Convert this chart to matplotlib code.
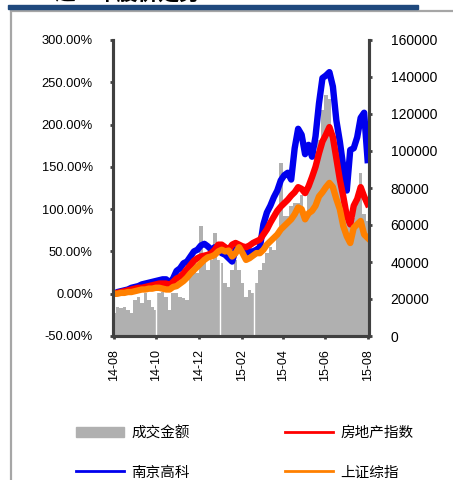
import numpy as np
import pandas as pd
import matplotlib
matplotlib.use("Agg")
import matplotlib.pyplot as plt
from matplotlib.lines import Line2D
from matplotlib.patches import Patch, Rectangle

plt.rcParams['font.family'] = ['Liberation Sans', 'Noto Sans CJK SC']

# trading samples every 5 days starting 2014-08-01
start = pd.Timestamp('2014-08-01')
days = np.arange(74) * 5

# 南京高科 (%)
njgk = [0, 2, 3, 4, 5, 7, 8, 9, 11, 12, 13, 14, 15, 16, 17, 17, 13, 18, 27, 30,
        36, 38, 44, 50, 52, 57, 59, 56, 52, 55, 52, 48, 46, 42, 38, 52, 54, 50, 48, 50,
        50, 52, 55, 82, 96, 104, 114, 122, 134, 140, 143, 135, 172, 195, 188, 165, 176, 162, 186, 225,
        255, 258, 262, 245, 205, 180, 150, 122, 170, 172, 185, 208, 214, 158]
# 房地产指数 (%)
fdc = [0, 1, 2, 3, 4, 5, 6, 7, 7, 8, 9, 10, 11, 12, 12, 12, 10, 14, 18, 20,
       24, 29, 34, 39, 42, 44, 45, 46, 48, 52, 58, 58, 55, 52, 58, 60, 58, 56, 55, 57,
       60, 62, 64, 70, 76, 84, 91, 98, 103, 107, 111, 116, 120, 126, 124, 119, 127, 138, 150, 166,
       180, 188, 197, 185, 160, 135, 115, 92, 82, 104, 112, 126, 115, 106]
# 上证综指 (%)
szzz = [0, 0, 1, 1, 2, 2, 3, 4, 5, 5, 6, 6, 7, 7, 6, 5, 5, 8, 9, 12,
        15, 19, 24, 28, 32, 36, 40, 43, 44, 46, 50, 52, 50, 51, 44, 48, 55, 48, 40, 42,
        45, 48, 48, 52, 58, 62, 66, 70, 76, 80, 84, 88, 94, 102, 100, 88, 95, 98, 104, 115,
        120, 126, 131, 126, 112, 100, 80, 68, 60, 78, 82, 86, 70, 66]
# 成交金额
volume = [12200, 15900, 15000, 15900, 14100, 12200, 19500, 21300, 17700, 23100,
          19500, 15900, 14000, 23100, 24000, 21300, 14100, 23100, 23100, 21300,
          20400, 19500, 35700, 39300, 33900, 59500, 39300, 35700, 41200, 55600,
          41200, 39300, 28500, 26700, 35700, 41200, 35700, 28500, 21300, 24900,
          23100, 28500, 35700, 39300, 44700, 48300, 46500, 53700, 93500, 64600,
          64600, 70000, 71800, 72000, 76000, 65000, 80000, 86000, 100000, 106000,
          122000, 130000, 128000, 105000, 100000, 92000, 70000, 62000, 60000, 64000,
          72000, 88000, 66000, 62000]
# market closed (holidays)
closed = ['2014-10-01', '2015-01-01', '2015-02-18']

tick_dates = ['2014-08-01', '2014-10-01', '2014-12-01', '2015-02-01',
              '2015-04-01', '2015-06-01', '2015-08-01']
tick_labels = ['14-08', '14-10', '14-12', '15-02', '15-04', '15-06', '15-08']

tick_pos = [(pd.Timestamp(d) - start).days for d in tick_dates]
closed_pos = [(pd.Timestamp(d) - start).days for d in closed]

fig = plt.figure(figsize=(4.53, 4.8), dpi=100)

# page decoration
fig.add_artist(Line2D([11/453, 11/453], [0, 1 - 10/480], color='#a6a6a6', lw=1.6))
fig.add_artist(Line2D([11/453, 1], [1 - 10.5/480, 1 - 10.5/480], color='#a6a6a6', lw=1.6))
fig.text(55/453, 1 - 4/480, '近一年股价走势', fontsize=15, fontweight='bold',
         family=['Noto Sans CJK SC'], va='bottom', ha='left')
fig.add_artist(Rectangle((8/453, 1 - 8.5/480), 410/453, 4/480,
                         color='#1f497d', transform=fig.transFigure, zorder=5))

ax = fig.add_axes([113/453, 144/480, 256/453, 296/480])
ax2 = ax.twinx()

ax2.bar(days, volume, width=5, color='#b0b0b0', linewidth=0)
for c in closed_pos:
    ax2.axvline(c, color='white', lw=1)
ax2.set_ylim(0, 160000)
ax2.set_yticks(np.arange(0, 160001, 20000))

ax.plot(days, njgk, color='#0000ee', lw=4.6)
ax.plot(days, fdc, color='#ff0000', lw=4.6)
ax.plot(days, szzz, color='#ff8000', lw=4.6)
ax.set_ylim(-50, 300)
ax.set_yticks(np.arange(-50, 301, 50))
ax.set_yticklabels(['%.2f%%' % v for v in np.arange(-50, 301, 50)])
ax.set_xlim(-1.5, 367)
ax.set_xticks(tick_pos)
ax.set_xticklabels(tick_labels, rotation=90)

ax.set_zorder(ax2.get_zorder() + 1)
ax.patch.set_visible(False)

for a in (ax, ax2):
    for s in a.spines.values():
        s.set_color('#404040')
        s.set_linewidth(2.2)
    a.spines['top'].set_visible(False)
    a.tick_params(colors='#404040', width=2, length=2.5, labelcolor='black')
ax.tick_params(axis='y', labelsize=9.3, pad=12)
ax.tick_params(axis='x', labelsize=9, pad=7)
ax2.tick_params(axis='y', labelsize=10, pad=13)

# column-wise order so rows read: 成交金额 / 房地产指数, 南京高科 / 上证综指
handles = [Patch(color='#b0b0b0'),
           Line2D([], [], color='#0000ee', lw=2),
           Line2D([], [], color='#ff0000', lw=2),
           Line2D([], [], color='#ff8000', lw=2)]
labels = ['成交金额', '南京高科', '房地产指数', '上证综指']
fig.legend(handles, labels, ncol=2, loc='upper left',
           bbox_to_anchor=(76/453, 1 - 426/480), frameon=False,
           prop={'family': ['Noto Sans CJK SC'], 'size': 10.5},
           handlelength=3.3, handleheight=0.75, handletextpad=0.5,
           columnspacing=6.5, labelspacing=1.75, borderpad=0, borderaxespad=0)

fig.savefig('out.png', dpi=100)
